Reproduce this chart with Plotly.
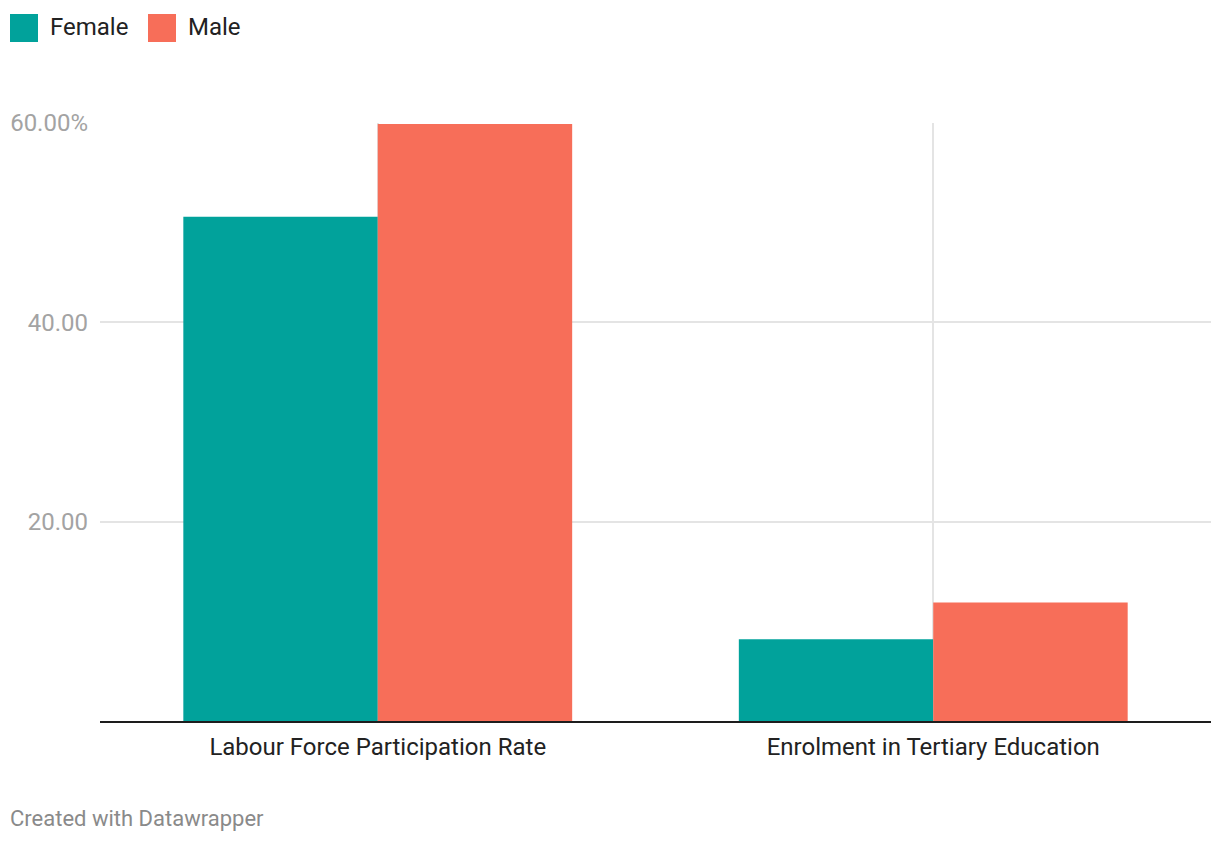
import plotly.graph_objects as go

categories = ["Labour Force Participation Rate", "Enrolment in Tertiary Education"]
female = [50.6, 8.2]
male = [59.9, 11.9]
series_names = ["Female", "Male"]
tick_vals = [20, 40, 60]
tick_text = ["20.00", "40.00", "60.00%"]

COL_F = "#01a29b"
COL_M = "#f76e59"
FONT = "Roboto"

W, H = 1220, 842
L, R, T, B = 100, 9, 123, 121
PW, PH = W - L - R, H - T - B

def px_x(x):
    return (x - L) / PW

def px_y(y):
    return (H - B - y) / PH

fig = go.Figure()
fig.add_trace(go.Bar(x=categories, y=female, name=series_names[0], marker=dict(color=COL_F, line=dict(width=0))))
fig.add_trace(go.Bar(x=categories, y=male, name=series_names[1], marker=dict(color=COL_M, line=dict(width=0))))

shapes = []
annotations = []
legend_items = [(series_names[0], COL_F, 10, 48), (series_names[1], COL_M, 148, 186)]
for name, col, sx, tx in legend_items:
    shapes.append(dict(type="rect", xref="paper", yref="paper",
                       x0=px_x(sx), x1=px_x(sx + 28), y0=px_y(42), y1=px_y(14),
                       fillcolor=col, line=dict(width=0)))
    annotations.append(dict(text=name, xref="paper", yref="paper", x=px_x(tx), y=px_y(27),
                            xanchor="left", yanchor="middle", showarrow=False,
                            font=dict(family=FONT, size=24, color="#222222")))
annotations.append(dict(text="Created with Datawrapper", xref="paper", yref="paper",
                        x=px_x(8), y=px_y(818), xanchor="left", yanchor="middle",
                        showarrow=False, font=dict(family=FONT, size=22, color="#8a8a8a")))

fig.update_layout(
    width=W, height=H,
    margin=dict(l=L, r=R, t=T, b=B, pad=0),
    paper_bgcolor="white", plot_bgcolor="white",
    barmode="group", bargap=0.3, bargroupgap=0,
    showlegend=False,
    shapes=shapes, annotations=annotations,
    font=dict(family=FONT),
    xaxis=dict(showgrid=True, gridcolor="#e4e4e4", gridwidth=2,
               showline=True, linecolor="#1d1d1d", linewidth=2,
               ticks="", tickfont=dict(family=FONT, size=24, color="#222222"),
               ticklabelstandoff=3, range=[-0.5, 1.5]),
    yaxis=dict(range=[0, 60], tickvals=tick_vals, ticktext=tick_text,
               showgrid=True, gridcolor="#e4e4e4", gridwidth=2,
               zeroline=False, showline=False, ticks="",
               tickfont=dict(family=FONT, size=24, color="#a3a3a3"),
               ticklabelstandoff=11),
)

fig.write_html("out.html")
